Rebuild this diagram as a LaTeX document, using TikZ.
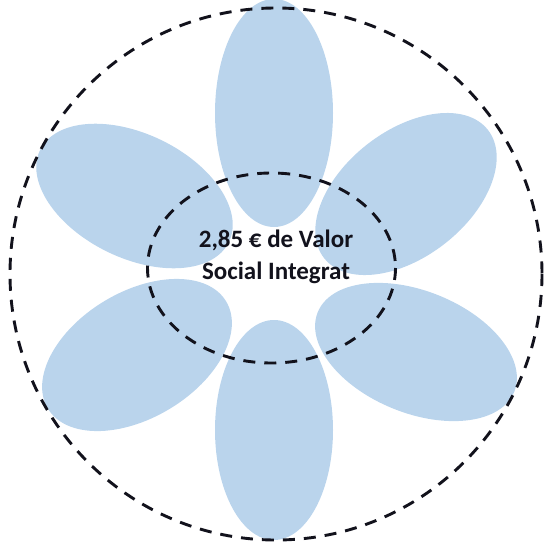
\documentclass[tikz,border=0pt]{standalone}
\usepackage{fontspec}
\setmainfont{Carlito}
\definecolor{petal}{RGB}{186,212,236}
\definecolor{ink}{RGB}{18,18,28}
\tikzset{petal/.style={fill=petal,draw=none},
 ring/.style={draw=ink,line width=2.9pt,dash pattern=on 12pt off 9pt}}
\begin{document}
\begin{tikzpicture}[x=1pt,y=-1pt]
\useasboundingbox (0,0) rectangle (546,549);
\fill[petal] (274,113) ellipse [x radius=59,y radius=114];
\fill[petal] (274,430) ellipse [x radius=59,y radius=110];
\fill[petal,rotate around={-26:(134.5,196)}] (134.5,196) ellipse [x radius=105,y radius=62];
\fill[petal,rotate around={38:(406,194)}] (406,194) ellipse [x radius=104,y radius=63];
\fill[petal,rotate around={31:(137,355)}] (137,355) ellipse [x radius=104,y radius=63];
\fill[petal,rotate around={-22:(416,352)}] (416,352) ellipse [x radius=106,y radius=61];
\draw[ring] (276,274) ellipse [x radius=266,y radius=266];
\draw[ring] (271.5,268) ellipse [x radius=124,y radius=95];
\node[font=\bfseries\fontsize{25pt}{32pt}\selectfont,align=center,text=ink] (t) at (276,257) {2,85 € de Valor\\Social Integrat};
\end{tikzpicture}
\end{document}
